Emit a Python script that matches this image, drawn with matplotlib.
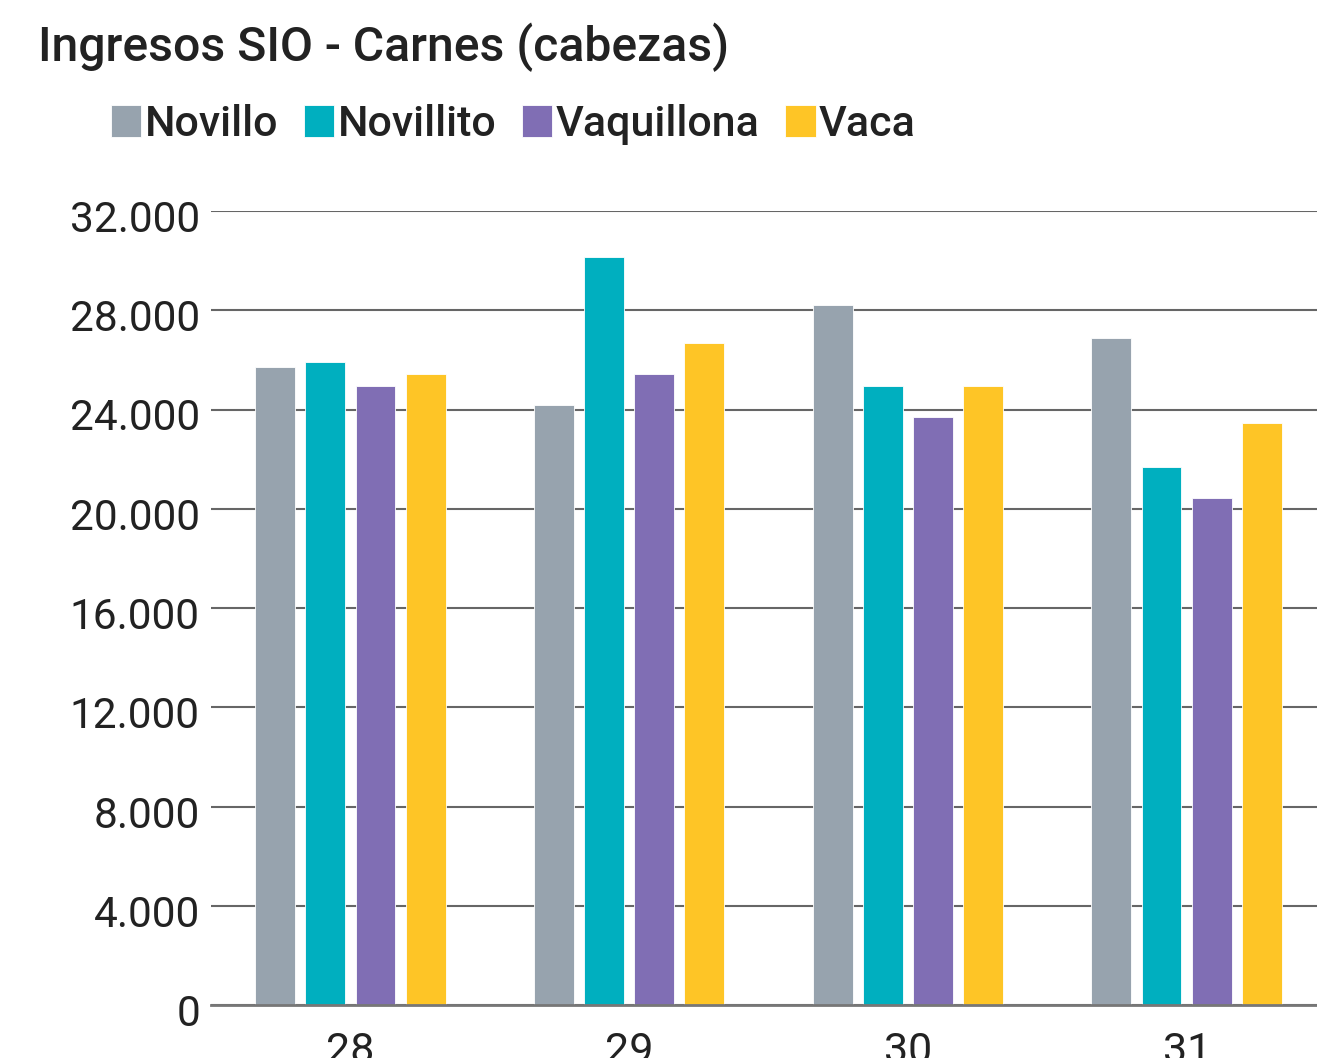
import matplotlib
matplotlib.use("Agg")
import matplotlib.pyplot as plt
import matplotlib.transforms as mtransforms
import numpy as np
from matplotlib.ticker import FuncFormatter

categories = ["28", "29", "30", "31"]
series_names = ["Novillo", "Novillito", "Vaquillona", "Vaca"]
novillo = [25700, 24200, 28200, 26900]
novillito = [25900, 30150, 24950, 21700]
vaquillona = [24950, 25450, 23700, 20450]
vaca = [25450, 26700, 24950, 23450]
colors = ["#97A3AE", "#00AFBF", "#806EB4", "#FEC526"]
yticks = [0, 4000, 8000, 12000, 16000, 20000, 24000, 28000, 32000]

plt.rcParams['font.family'] = ['Roboto', 'DejaVu Sans']

W, H = 1317, 1058
fig = plt.figure(figsize=(W / 100, H / 100), dpi=100)
ax = fig.add_axes([211 / W, (H - 1005) / H, (1326 - 211) / W, (1005 - 211) / H])

x = np.arange(len(categories))
offsets = [-0.27, -0.09, 0.09, 0.27]
width = 0.143
data = [novillo, novillito, vaquillona, vaca]
handles = []
for vals, off, c, name in zip(data, offsets, colors, series_names):
    b = ax.bar(x + off, vals, width=width, color=c, label=name, zorder=3,
               edgecolor='white', linewidth=0.6)
    handles.append(b)

ax.set_xlim(-0.5, 3.5)
ax.set_ylim(0, 32000)
ax.set_yticks(yticks)
ax.yaxis.set_major_formatter(FuncFormatter(lambda v, p: f"{int(v):,}".replace(",", ".")))
ax.set_xticks(x)
ax.set_xticklabels(categories)
ax.grid(axis='y', color='#666666', linewidth=1.5, zorder=0)
ax.grid(axis='x', visible=False)
for s in ['top', 'right', 'left']:
    ax.spines[s].set_visible(False)
ax.spines['bottom'].set_color('#777777')
ax.spines['bottom'].set_linewidth(2)
ax.spines['bottom'].set_zorder(4)
ax.tick_params(axis='y', length=0, pad=8, labelsize=30.5, labelcolor='#222222')
ax.tick_params(axis='x', length=0, pad=19, labelsize=31, labelcolor='#222222')

shift = mtransforms.ScaledTranslation(0, -5 / 100, fig.dpi_scale_trans)
for tick in ax.yaxis.get_major_ticks():
    tick.label1.set_transform(tick.label1.get_transform() + shift)

fig.text(38 / W, 1 - 47 / H, "Ingresos SIO - Carnes (cabezas)", fontsize=34.7,
         fontweight='medium', color='#222222', va='center', ha='left')

leg = fig.legend(handles=handles, labels=series_names, loc='upper left',
                 bbox_to_anchor=(111 / W, 1 - 104 / H), ncol=4, frameon=False,
                 fontsize=31, handlelength=0.7, handleheight=0.75,
                 handletextpad=0.08, columnspacing=0.6, borderpad=0,
                 borderaxespad=0)
for t in leg.get_texts():
    t.set_color('#222222')
    t.set_fontweight('medium')

fig.savefig("out.png", dpi=100, facecolor='white')
